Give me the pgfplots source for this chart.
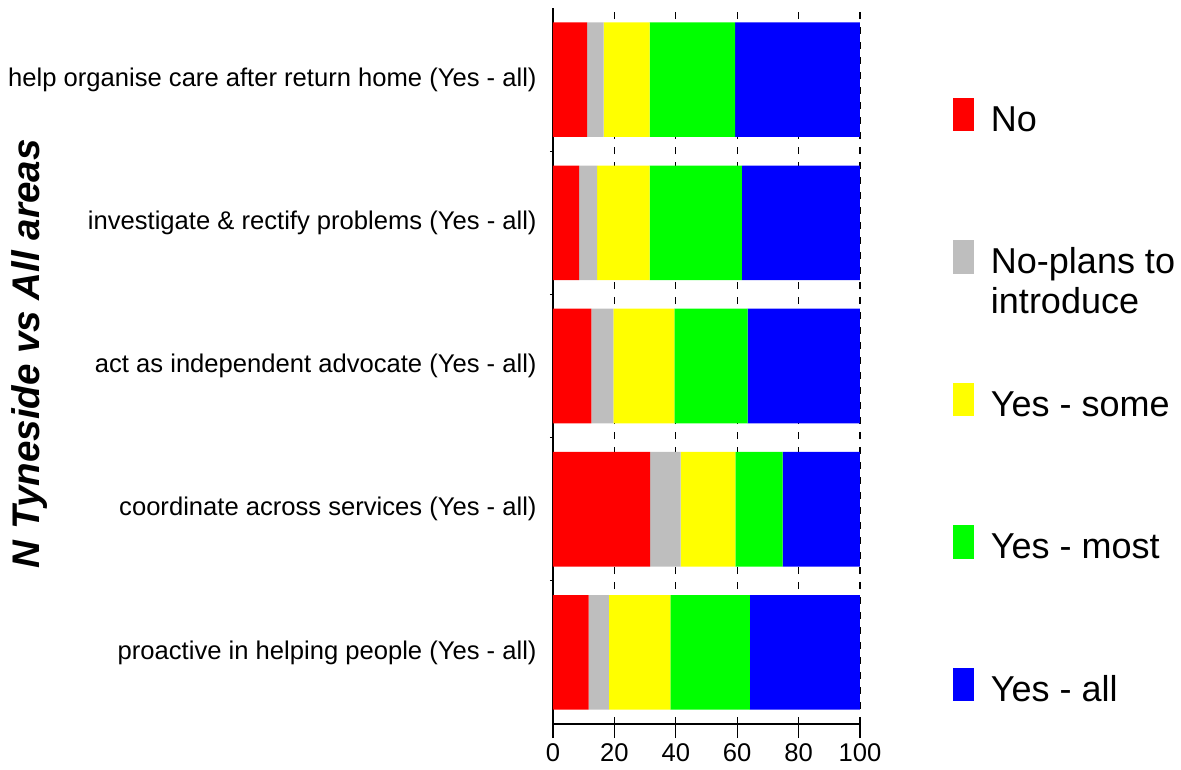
\documentclass[border=0pt]{standalone}
\usepackage{fontspec}
\setmainfont{Liberation Sans}
\usepackage{pgfplots}
\pgfplotsset{compat=1.18}
\usepackage{pgfplotstable}

\definecolor{cNo}{RGB}{255,0,0}
\definecolor{cNP}{RGB}{190,190,190}
\definecolor{cSome}{RGB}{255,255,0}
\definecolor{cMost}{RGB}{0,255,0}
\definecolor{cAll}{RGB}{0,0,255}

\pgfplotstableread{
y No NoPlans Some Most All
0 11.6 6.6 20.0 25.9 35.9
1 31.6 10.0 17.8 15.4 25.2
2 12.5 7.2 19.8 23.9 36.6
3 8.5 5.9 17.1 30.0 38.5
4 11.1 5.4 15.0 27.8 40.7
}\datatable

\begin{document}
\begin{tikzpicture}
\begin{axis}[
  scale only axis,
  width=153.5pt, height=358pt,
  xbar stacked, bar width=0.8,
  xmin=0, xmax=100, ymin=-0.5, ymax=4.5,
  axis x line*=bottom, axis y line*=left,
  axis line style={line width=0.65pt, black},
  xtick={0,20,...,100},
  ytick={0,1,2,3,4},
  yticklabels={proactive in helping people (Yes - all), coordinate across services (Yes - all), act as independent advocate (Yes - all), investigate \& rectify problems (Yes - all), help organise care after return home (Yes - all)},
  minor ytick={0.5,1.5,2.5,3.5},
  tick align=outside,
  major tick length=7pt, minor tick length=1.5pt,
  xtick style={line width=0.65pt, black},
  major y tick style={draw=none},
  minor y tick style={line width=0.65pt, black},
  xmajorgrids,
  major x grid style={dash pattern=on 3.75pt off 3.75pt, line width=0.6pt, black},
  /pgf/number format/assume math mode=true,
  ticklabel style={font=\fontsize{12.8}{15}\selectfont},
  xticklabel style={inner sep=0pt, anchor=north, yshift=-2.5pt},
  yticklabel style={inner sep=0pt, anchor=east, xshift=-1pt},
  ylabel={N Tyneside vs All areas},
  ylabel style={at={(axis description cs:-1.705,0.517)}, anchor=center, font=\bfseries\itshape\fontsize{19.25}{23}\selectfont},
  legend image code/.code={\fill[#1] (0pt,0pt) rectangle (10.5pt,16.75pt);},
  legend cell align=left,
  legend style={at={(axis description cs:1.3029,0.875)}, anchor=north west, draw=none, fill=none, inner sep=0pt, outer sep=0pt, row sep=53pt, column sep=8.5pt, nodes={inner sep=0pt, anchor=base west}, font=\fontsize{18}{20}\selectfont},
]
\addplot[fill=cNo, draw=none] table[x=No, y=y] {\datatable};
\addlegendentry{\strut No}
\addplot[fill=cNP, draw=none] table[x=NoPlans, y=y] {\datatable};
\addlegendentry{\strut\smash{\begin{tabular}[t]{@{}l@{}}No-plans to\\introduce\end{tabular}}}
\addplot[fill=cSome, draw=none] table[x=Some, y=y] {\datatable};
\addlegendentry{\strut Yes - some}
\addplot[fill=cMost, draw=none] table[x=Most, y=y] {\datatable};
\addlegendentry{\strut Yes - most}
\addplot[fill=cAll, draw=none] table[x=All, y=y] {\datatable};
\addlegendentry{\strut Yes - all}
\coordinate (bbsw) at (rel axis cs:-1.8013,-0.0642);
\coordinate (bbne) at (rel axis cs:2.0456,1.0112);
\end{axis}
\pgfresetboundingbox
\path[use as bounding box] (bbsw) rectangle (bbne);
\end{tikzpicture}
\end{document}
